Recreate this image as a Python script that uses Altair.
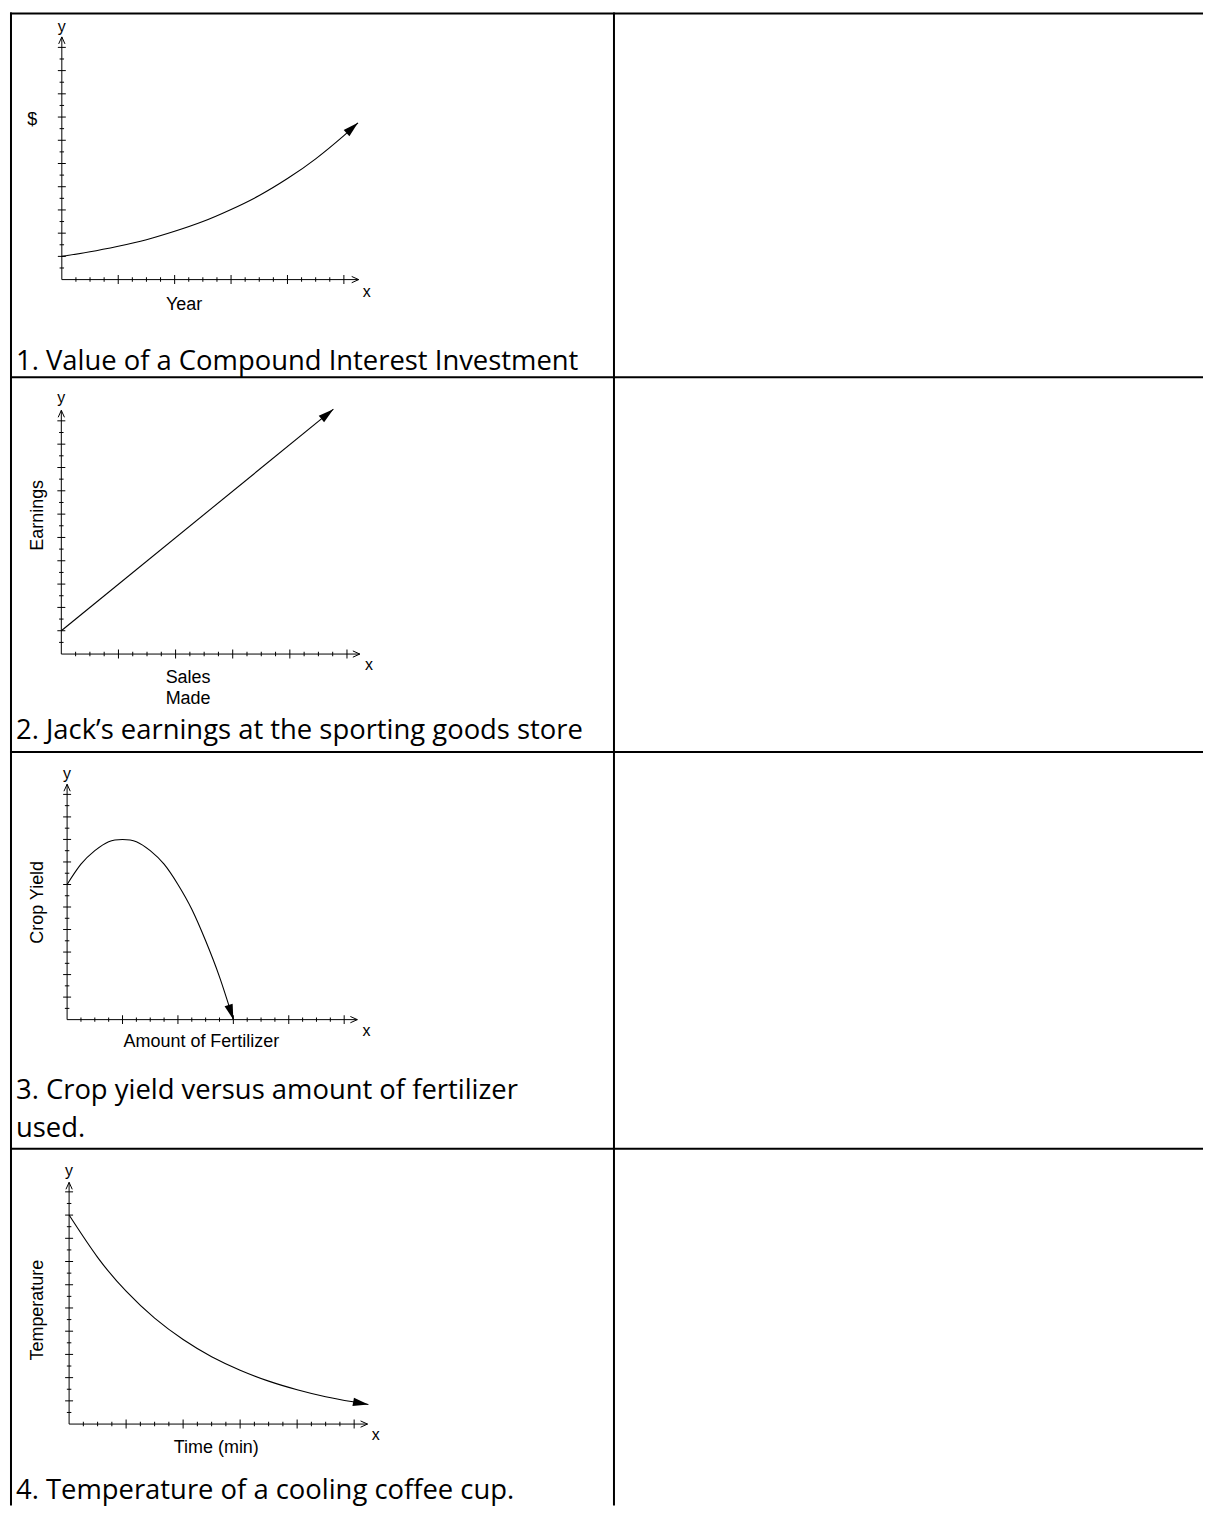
import math
import altair as alt
import pandas as pd

# ---------------- values ----------------
# x in minor-tick units along the horizontal axis, y in major-tick units
g1_x = [0, 2, 4, 6, 8, 10, 12, 14, 16, 18, 20, 21]
g1_y = [1.0, 1.2, 1.44, 1.72, 2.08, 2.5, 3.02, 3.62, 4.35, 5.2, 6.2, 6.75]

g2_x = [0, 19.05]
g2_y = [1.0, 10.5]

g3_x = [0, 1, 2, 3, 4, 5, 6, 7, 8, 9, 10, 11, 12]
g3_y = [6.0, 6.9, 7.5, 7.9, 8.0, 7.9, 7.5, 6.9, 6.0, 4.9, 3.5, 1.9, 0.0]

g4_x = [0, 2, 4, 6, 8, 10, 12, 14, 16, 18, 20, 21]
g4_y = [9.0, 7.18, 5.72, 4.56, 3.64, 2.9, 2.32, 1.85, 1.48, 1.18, 0.95, 0.84]

x_major_ticks = [4, 8, 12, 16, 20]
x_minor_ticks = [1, 2, 3, 5, 6, 7, 9, 10, 11, 13, 14, 15, 17, 18, 19]
y_major_ticks = [1, 2, 3, 4, 5, 6, 7, 8, 9, 10]
y_minor_ticks = [0.5, 1.5, 2.5, 3.5, 4.5, 5.5, 6.5, 7.5, 8.5, 9.5]

captions = [
    ["1. Value of a Compound Interest Investment"],
    ["2. Jack\u2019s earnings at the sporting goods store"],
    ["3. Crop yield versus amount of fertilizer", "used."],
    ["4. Temperature of a cooling coffee cup."],
]
x_titles = [["Year"], ["Sales", "Made"], ["Amount of Fertilizer"], ["Time (min)"]]
y_titles = ["$", "Earnings", "Crop Yield", "Temperature"]

# ---------------- layout (absolute page pixels) ----------------
PAGE = 8
TOTAL_W = 1197
DIVIDER_X = 606
ROW_TOPS = [8, 374, 750, 1148]
ROW_H = [366, 376, 398, 358]

ARROW = "M0,0L-0.55,2L0.55,2Z"
CHEV = "M-0.9,2L0,0L0.9,2"
LABEL_FONT = "Liberation Sans"
CAP_FONT = "Open Sans"
CAP_SIZE = 27.5

layout = [
    dict(xs=g1_x, ys=g1_y, ox=60, oy=276, sx=14.15, sy=23.3, xtip=21.05, ytip=10.45,
         ylab=(60, 27.5), xlab=(366, 293), xt_pos=[(182.7, 306)], yt_pos=(30.3, 121, 0),
         cap_x=14, cap_y=[366.5]),
    dict(xs=g2_x, ys=g2_y, ox=59.5, oy=651.7, sx=14.33, sy=23.4, xtip=20.9, ytip=10.45,
         ylab=(59.5, 400), xlab=(368.3, 668), xt_pos=[(186.7, 680.7), (186.7, 701.7)],
         yt_pos=(41.2, 512.5, 270), cap_x=14, cap_y=[736.7]),
    dict(xs=g3_x, ys=g3_y, ox=65.3, oy=1018.5, sx=13.9, sy=22.6, xtip=20.95, ytip=10.45,
         ylab=(65.3, 777), xlab=(365.7, 1035), xt_pos=[(200, 1046)],
         yt_pos=(41.2, 900.8, 270), cap_x=14, cap_y=[1098.3, 1136.7]),
    dict(xs=g4_x, ys=g4_y, ox=67.3, oy=1424.3, sx=14.3, sy=23.3, xtip=20.94, ytip=10.41,
         ylab=(67.3, 1175), xlab=(375, 1440), xt_pos=[(215, 1453.3)],
         yt_pos=(41.2, 1310, 270), cap_x=14, cap_y=[1499]),
]


def text_layer(txt, ax, ay, row_top, size, font, align="center", angle=0):
    return alt.Chart(pd.DataFrame({"t": [txt]})).mark_text(
        font=font, fontSize=size, align=align, baseline="alphabetic",
        angle=angle, color="black"
    ).encode(text="t:N", x=alt.value(ax - PAGE), y=alt.value(ay - row_top))


def border_layers(H, first_row):
    df = pd.DataFrame({"k": [0]})
    top = 1 if first_row else 0
    t = alt.Chart(df).mark_rule(color="black", strokeWidth=2).encode(
        x=alt.value(0), x2=alt.value(TOTAL_W), y=alt.value(top))
    l = alt.Chart(df).mark_rule(color="black", strokeWidth=2).encode(
        x=alt.value(1), y=alt.value(0), y2=alt.value(H))
    d = alt.Chart(df).mark_rule(color="black", strokeWidth=2).encode(
        x=alt.value(DIVIDER_X), y=alt.value(0), y2=alt.value(H))
    return [t, l, d]


def row_chart(i):
    g = layout[i]
    row_top = ROW_TOPS[i]
    H = ROW_H[i]
    ox = g["ox"] - PAGE
    oy = g["oy"] - row_top
    sx, sy = g["sx"], g["sy"]
    xscale = alt.Scale(domain=[-ox / sx, (TOTAL_W - ox) / sx], nice=False, zero=False)
    yscale = alt.Scale(domain=[-(H - oy) / sy, oy / sy], nice=False, zero=False)

    def X(f):
        return alt.X(f, type="quantitative", scale=xscale, axis=None)

    def Y(f):
        return alt.Y(f, type="quantitative", scale=yscale, axis=None)

    layers = border_layers(H, i == 0)

    axis_df = pd.DataFrame({"x0": [0.0], "y0": [0.0], "xt": [g["xtip"]], "yt": [g["ytip"]]})
    layers.append(alt.Chart(axis_df).mark_rule(color="black", strokeWidth=1).encode(
        x=X("x0"), x2=alt.X2("xt"), y=Y("y0")))
    layers.append(alt.Chart(axis_df).mark_rule(color="black", strokeWidth=1).encode(
        x=X("x0"), y=Y("y0"), y2=alt.Y2("yt")))
    layers.append(alt.Chart(axis_df).mark_point(
        shape=CHEV, filled=False, size=49, color="black", opacity=1, strokeWidth=1, angle=0
    ).encode(x=X("x0"), y=Y("yt")))
    layers.append(alt.Chart(axis_df).mark_point(
        shape=CHEV, filled=False, size=49, color="black", opacity=1, strokeWidth=1, angle=90
    ).encode(x=X("xt"), y=Y("y0")))

    # tick marks
    for vals, size in ((y_major_ticks, 8), (y_minor_ticks, 4.5)):
        df = pd.DataFrame({"x": [0.0] * len(vals), "y": vals})
        layers.append(alt.Chart(df).mark_tick(
            orient="horizontal", size=size, thickness=1, color="black", opacity=1
        ).encode(x=X("x"), y=Y("y")))
    for vals, size in ((x_major_ticks, 9), (x_minor_ticks, 4.5)):
        df = pd.DataFrame({"x": vals, "y": [0.0] * len(vals)})
        layers.append(alt.Chart(df).mark_tick(
            orient="vertical", size=size, thickness=1, color="black", opacity=1
        ).encode(x=X("x"), y=Y("y")))

    # curve and arrow head
    cdf = pd.DataFrame({"x": g["xs"], "y": g["ys"]})
    layers.append(alt.Chart(cdf).mark_line(
        color="black", strokeWidth=1.1, interpolate="natural"
    ).encode(x=X("x"), y=Y("y")))
    dx = (g["xs"][-1] - g["xs"][-2]) * sx
    dy = (g["ys"][-1] - g["ys"][-2]) * sy
    ang = math.degrees(math.atan2(dx, dy)) % 360
    layers.append(alt.Chart(cdf.tail(1)).mark_point(
        shape=ARROW, filled=True, size=240, color="black", opacity=1, angle=round(ang, 1)
    ).encode(x=X("x"), y=Y("y")))

    # labels
    layers.append(text_layer("y", g["ylab"][0], g["ylab"][1], row_top, 16, LABEL_FONT))
    layers.append(text_layer("x", g["xlab"][0], g["xlab"][1], row_top, 16, LABEL_FONT))
    for txt, (ax, ay) in zip(x_titles[i], g["xt_pos"]):
        layers.append(text_layer(txt, ax, ay, row_top, 18, LABEL_FONT))
    yx, yy, yang = g["yt_pos"]
    layers.append(text_layer(y_titles[i], yx, yy, row_top, 18, LABEL_FONT, angle=yang))
    for txt, cy in zip(captions[i], g["cap_y"]):
        layers.append(text_layer(txt, g["cap_x"], cy, row_top, CAP_SIZE, CAP_FONT, align="left"))

    return alt.layer(*layers).properties(width=TOTAL_W, height=H)


chart = alt.vconcat(*[row_chart(i) for i in range(4)], spacing=0, bounds="flush").properties(
    padding=0, background="white"
).configure_view(stroke="transparent")

chart.save("out.html", embed_options={"renderer": "svg", "actions": False})
